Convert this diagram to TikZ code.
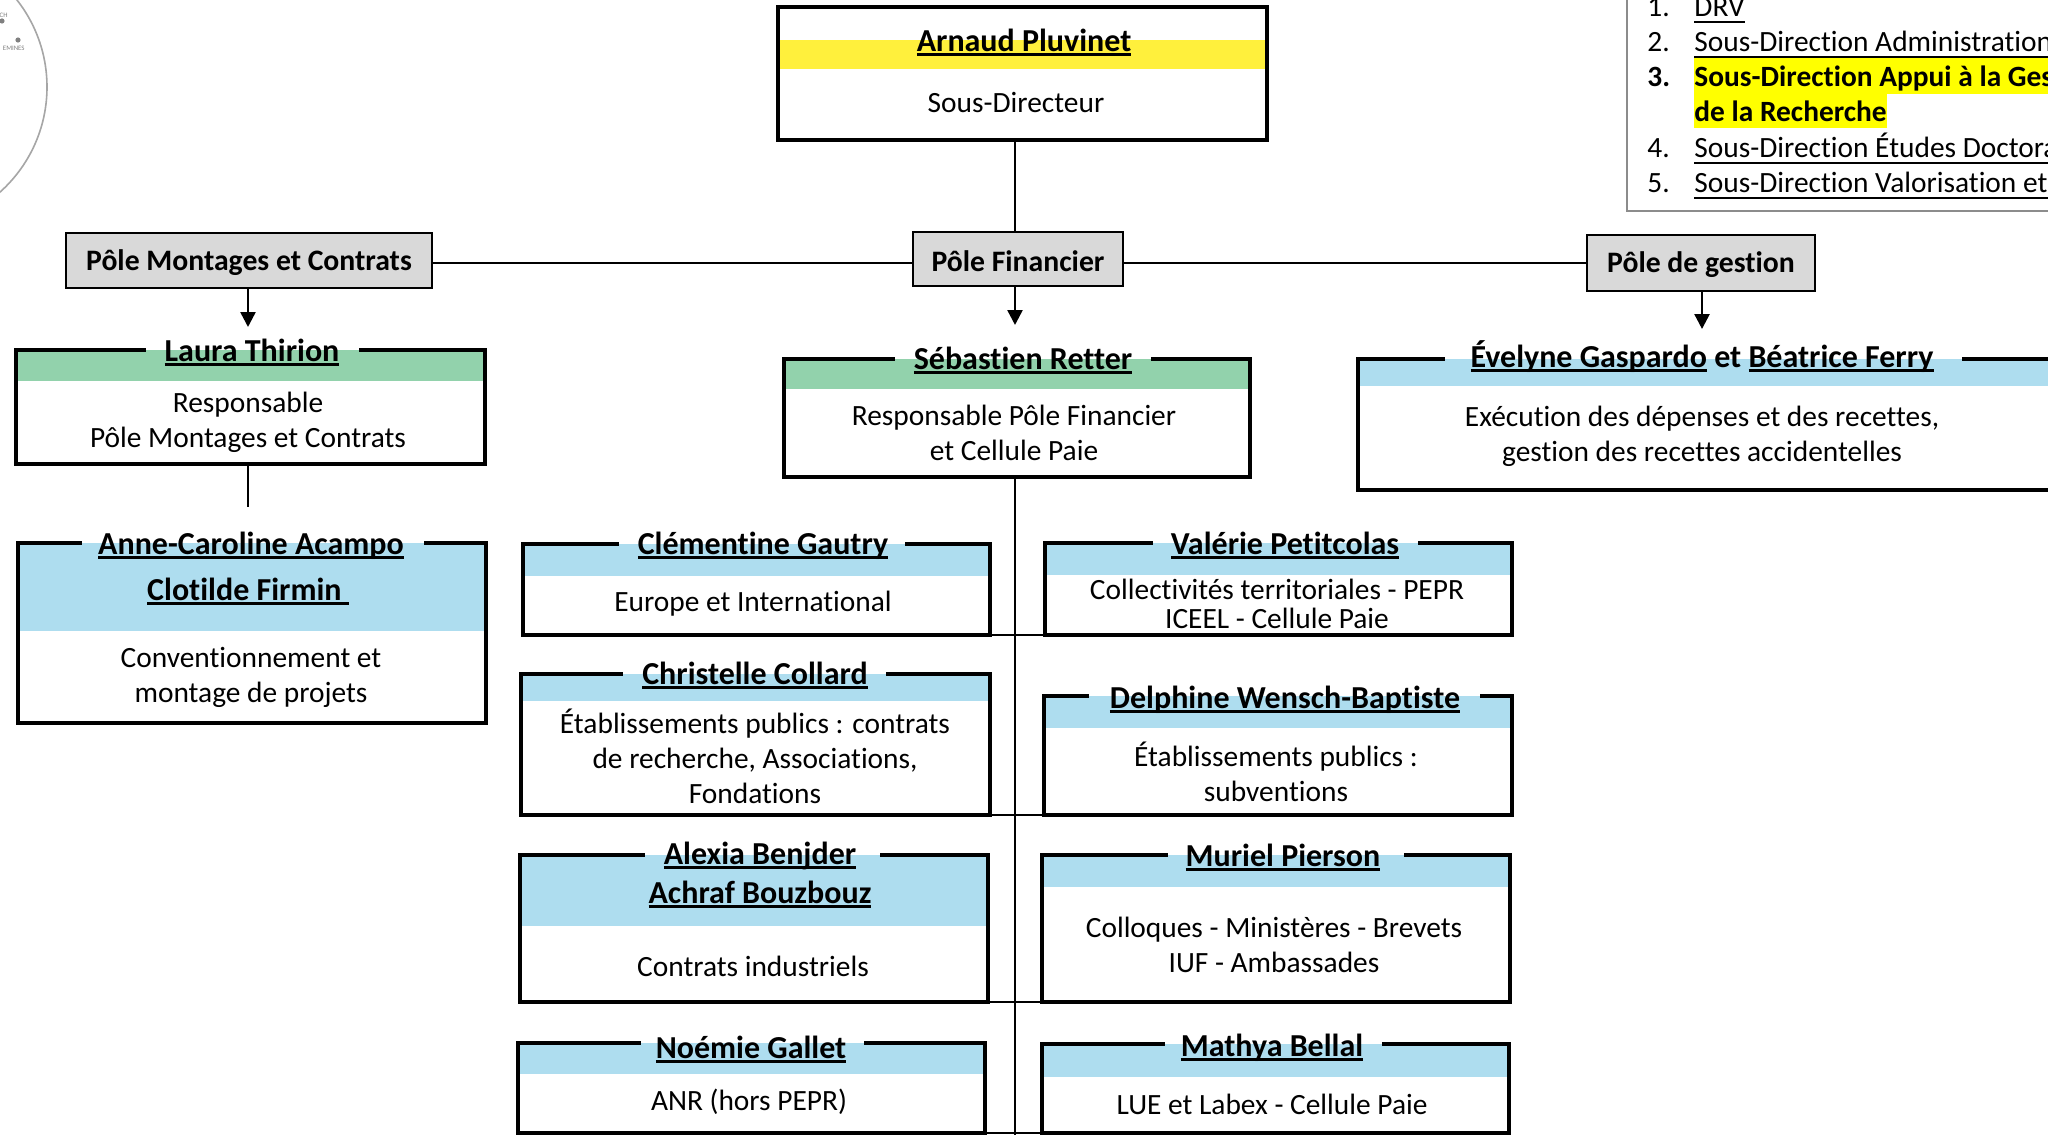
\documentclass[tikz,border=0pt]{standalone}
\usepackage{fontspec}
\setmainfont[Ligatures=NoCommon]{Carlito}
\usetikzlibrary{arrows.meta,fit}
\definecolor{bandblue}{HTML}{AEDDEF}
\definecolor{bandgreen}{HTML}{92D2AC}
\definecolor{bandyellow}{HTML}{FFF03C}
\definecolor{polegray}{HTML}{D9D9D9}
\definecolor{listgray}{HTML}{8C8C8C}
\definecolor{hilite}{HTML}{FFFF00}
\newcommand\nm[1]{\setbox0\hbox{#1}\rlap{\rule[-0.13em]{\wd0}{0.075em}}\box0\relax}
\tikzset{
  frame/.style={line width=2pt,line cap=rect,line join=miter},
  holder/.style={inner sep=0pt,outer sep=0pt},
  namet/.style={inner sep=0pt,yshift=-1.25pt,font=\fontsize{16}{18}\selectfont\bfseries,text height=10.5pt,text depth=3.5pt},
  bodyt/.style={inner sep=0pt,align=center,font=\fontsize{14.7}{17.5}\selectfont},
  tight/.style={font=\fontsize{14.7}{14.5}\selectfont},
  polebox/.style={draw=black,line width=1.2pt,fill=polegray,inner sep=0pt,font=\fontsize{14.85}{18}\selectfont\bfseries},
  poletext/.style={inner sep=0pt,font=\fontsize{14.85}{18}\selectfont\bfseries},
  link/.style={line width=1.25pt},
  arrowlink/.style={line width=1.25pt,-{Triangle[length=7.5pt,width=7.5pt]}},
  listt/.style={inner sep=0pt,anchor=west,yshift=-1.25pt,font=\fontsize{14.7}{17}\selectfont,text height=10pt,text depth=3pt},
  listb/.style={listt,font=\fontsize{14.7}{17}\selectfont\bfseries},
  tiny/.style={inner sep=0pt,text=gray,font=\fontsize{3.4}{4}\selectfont}
}
% name, x1, y1, x2, y2, band bottom, gap left, gap right, colour
\newcommand\card[9]{%
  \fill[#9] (#2,#3) rectangle (#4,#6);
  \draw[frame] (#7,#3) -- (#2,#3) -- (#2,#5) -- (#4,#5) -- (#4,#3) -- (#8,#3);
  \coordinate (#1-a) at (#2,#3);
  \coordinate (#1-b) at (#4,#5);
  \node[holder,fit=(#1-a)(#1-b)] (#1) {};
}
\begin{document}
\begin{tikzpicture}[x=0.5pt,y=-0.5pt]
\useasboundingbox (0,0) rectangle (2048,1134);
\clip (0,0) rectangle (2048,1134);
\fill[white] (0,0) rectangle (2048,1134);
% circle logo
\draw[gray!70,line width=0.8pt] (-94,87) circle[radius=141];
\fill[gray] (2,21) circle[radius=2.6];
\fill[gray] (18,40) circle[radius=2.6];
\node[tiny,anchor=east] (lgA) at (8,15) {CH};
\node[tiny,anchor=east] (lgB) at (25,48) {EMINES};
% list
\fill[hilite] (1694,57) rectangle (2048,94);
\fill[hilite] (1694,94) rectangle (1887,128);
\draw[listgray,line width=1.2pt] (2070,-20) -- (1627,-20) -- (1627,211) -- (2070,211);
\node[listt] (n1) at (1647,7) {1.};
\node[listt] (n2) at (1647,42) {2.};
\node[listb] (n3) at (1647,77) {3.};
\node[listt] (n4) at (1647,148) {4.};
\node[listt] (n5) at (1647,183) {5.};
\node[listt] (l1) at (1694,7) {DRV};
\node[listt] (l2) at (1694,42) {Sous-Direction Administration};
\node[listb] (l3) at (1694,77) {Sous-Direction Appui à la Ges};
\node[listb] (l3b) at (1694,112) {de la Recherche};
\node[listt] (l4) at (1694,148) {Sous-Direction Études Doctora};
\node[listt] (l5) at (1694,183) {Sous-Direction Valorisation et};
\draw[line width=0.75pt] (1694,22) -- (1745,22);
\draw[line width=0.75pt] (1694,57) -- (2048,57);
\draw[line width=0.75pt] (1694,163) -- (2048,163);
\draw[line width=0.75pt] (1694,198) -- (2048,198);
% top box
\fill[bandyellow] (778,40) rectangle (1267,69);
\draw[frame] (778,7) rectangle (1267,140);
\coordinate (top-a) at (778,7);
\coordinate (top-b) at (1267,140);
\node[holder,fit=(top-a)(top-b)] (top) {};
\node[namet] (topn) at (1024,42) {\nm{Arnaud Pluvinet}};
\node[bodyt] (topt) at (1016,102) {Sous-Directeur};
% poles
\node[polebox,minimum width=183pt,minimum height=27.5pt] (pm) at (249,260.5) {};
\node[poletext] (pmt) at (249,263) {Pôle Montages et Contrats};
\node[polebox,minimum width=105pt,minimum height=27pt] (pf) at (1018,259) {};
\node[poletext] (pft) at (1018,261) {Pôle Financier};
\node[polebox,minimum width=114pt,minimum height=28pt] (pg) at (1701,263) {};
\node[poletext] (pgt) at (1701,265) {Pôle de gestion};
\coordinate (hl) at (0,263);
\draw[link] (pm.east |- hl) -- (pf.west |- hl);
\draw[link] (pf.east |- hl) -- (pg.west |- hl);
\coordinate (tx) at (1015,0);
\draw[link] (top.south -| tx) -- (pf.north -| tx);
% cards
\card{laura}{16}{350}{485}{464}{381}{144}{361}{bandgreen}
\node[namet] (lauran) at (252,352) {\nm{Laura Thirion}};
\node[bodyt] (laurat) at (248,422) {Responsable\\Pôle Montages et Contrats};
\card{seb}{784}{359}{1250}{477}{389}{893}{1153}{bandgreen}
\node[namet] (sebn) at (1023,360) {\nm{Sébastien Retter}};
\node[bodyt] (sebt) at (1014,433) {Responsable Pôle Financier\\et Cellule Paie};
\card{eve}{1358}{359}{2070}{490}{386}{1443}{1964}{bandblue}
\node[namet] (even) at (1702,358) {\nm{Évelyne Gaspardo} et \nm{Béatrice Ferry}};
\node[bodyt] (evet) at (1702,436) {Exécution des dépenses et des recettes,\\gestion des recettes accidentelles};
\card{anne}{18}{543}{486}{723}{631}{80}{426}{bandblue}
\node[namet] (annen) at (251,545) {\nm{Anne-Caroline Acampo}};
\node[namet] (annem) at (248,591) {\nm{Clotilde Firmin\ }};
\node[bodyt] (annet) at (251,677) {Conventionnement et\\montage de projets};
\card{cle}{523}{544}{990}{635}{576}{617}{907}{bandblue}
\node[namet] (clen) at (763,545) {\nm{Clémentine Gautry}};
\node[bodyt] (clet) at (753,604) {Europe et International};
\card{val}{1045}{543}{1512}{635}{575}{1151}{1420}{bandblue}
\node[namet] (valn) at (1285,545) {\nm{Valérie Petitcolas}};
\node[bodyt,tight] (valt) at (1277,604) {Collectivités territoriales - PEPR\\ICEEL - Cellule Paie};
\card{chr}{521}{674}{990}{815}{701}{621}{888}{bandblue}
\node[namet] (chrn) at (755,675) {\nm{Christelle Collard}};
\node[bodyt] (chrt) at (755,756) {Établissements publics : contrats\\de recherche, Associations,\\Fondations};
\card{del}{1044}{696}{1512}{815}{728}{1087}{1482}{bandblue}
\node[namet] (deln) at (1285,699) {\nm{Delphine Wensch-Baptiste}};
\node[bodyt] (delt) at (1276,772) {Établissements publics :\\subventions};
\card{ale}{520}{855}{988}{1002}{926}{643}{882}{bandblue}
\node[namet] (alen) at (760,855) {\nm{Alexia Benjder}};
\node[namet] (alem) at (760,894) {\nm{Achraf Bouzbouz}};
\node[bodyt] (alet) at (753,966) {Contrats industriels};
\card{mur}{1042}{855}{1510}{1002}{887}{1166}{1406}{bandblue}
\node[namet] (murn) at (1283,857) {\nm{Muriel Pierson}};
\node[bodyt] (murt) at (1274,945) {Colloques - Ministères - Brevets\\IUF - Ambassades};
\card{noe}{518}{1043}{985}{1133}{1074}{639}{866}{bandblue}
\node[namet] (noen) at (751,1049) {\nm{Noémie Gallet}};
\node[bodyt] (noet) at (749,1102) {ANR (hors PEPR)};
\card{mat}{1042}{1044}{1509}{1133}{1077}{1163}{1384}{bandblue}
\node[namet] (matn) at (1272,1047) {\nm{Mathya Bellal}};
\node[bodyt] (matt) at (1272,1104) {LUE et Labex - Cellule Paie};
% connectors
\coordinate (annestub) at (248,507);
\coordinate (lx) at (248,0);
\coordinate (gx) at (1702,0);
\coordinate (tb) at (1015,1140);
\coordinate (tipL) at (248,327);
\coordinate (tipF) at (1015,325);
\coordinate (tipG) at (1702,329);
\draw[arrowlink] (pm.south -| lx) -- (tipL);
\draw[arrowlink] (pf.south -| tx) -- (tipF);
\draw[arrowlink] (pg.south -| gx) -- (tipG);
\draw[link] (laura.south -| lx) -- (annestub);
\draw[link] (seb.south -| tx) -- (tb);
\draw[link] (cle.south east) -- (val.south west);
\draw[link] (chr.south east) -- (del.south west);
\draw[link] (ale.south east) -- (mur.south west);
\draw[link] (noe.south east) -- (mat.south west);
\end{tikzpicture}
\end{document}
